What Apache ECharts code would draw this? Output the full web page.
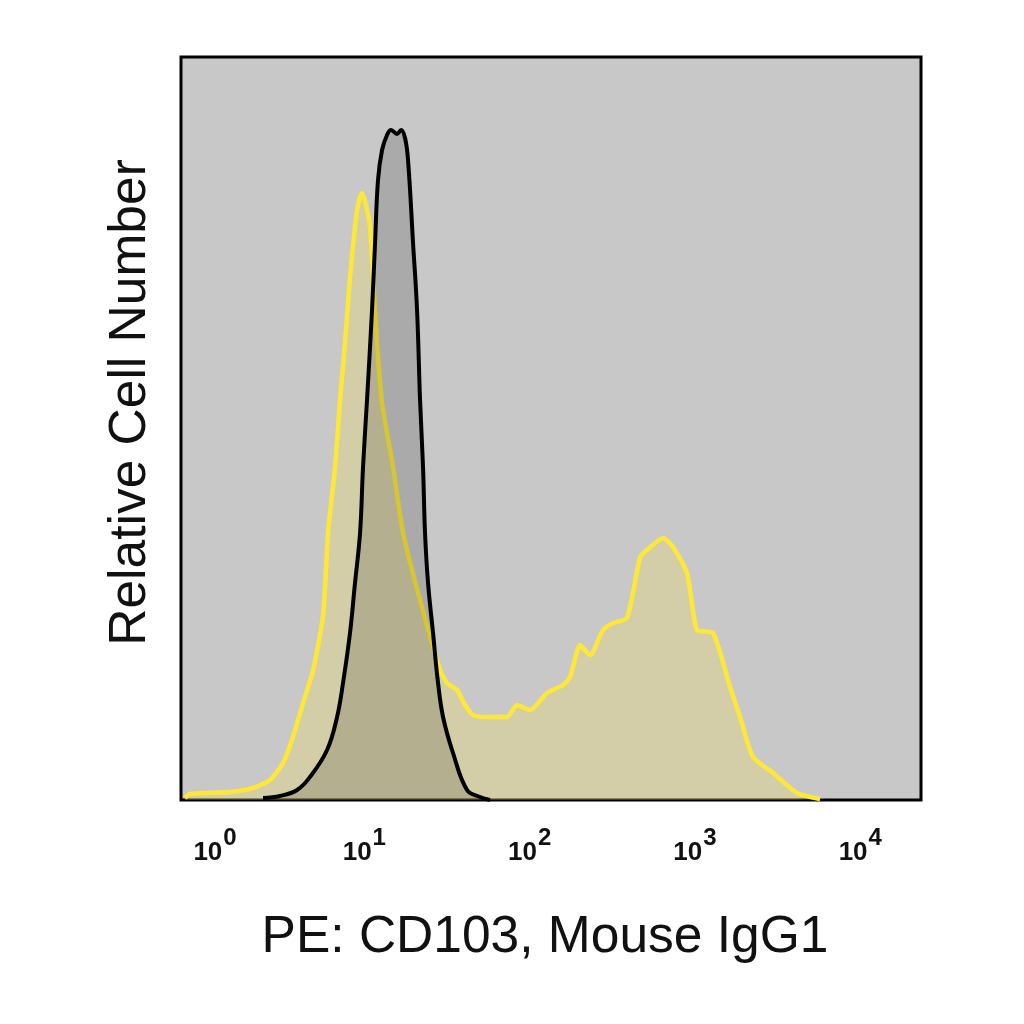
<!DOCTYPE html>
<html>
<head>
<meta charset="utf-8">
<script src="https://cdn.jsdelivr.net/npm/echarts@6/dist/echarts.min.js"></script>
<style>
html,body{margin:0;padding:0;background:#fff;}
#chart{width:1024px;height:1024px;}
</style>
</head>
<body>
<div id="chart"></div>
<script>
// PE fluorescence (log scale) and relative cell counts
const cd103X = [0.82,0.88,1.54,2.12,2.69,3.22,3.70,4.26,4.90,5.63,6.03,6.65,7.13,7.64,8.19,8.78,9.16,9.68,10.24,10.83,11.29,11.93,12.80,14.92,17.15,21.73,28.7,31.6,36.4,40.7,45.5,52.3,73.0,83.9,100.6,127.4,159.2,175.6,201.8,232,278,320,388,466,513,641,737,896,1030,1287,1631,1874,2246,2968,4147,5713];
const cd103Y = [2,6,8,12,20,37,63,97,130,185,267,333,400,457,523,573,595,607,595,573,523,457,397,333,267,200,130,117,110,95,85,83,83,95,90,107,115,123,155,145,170,177,182,243,250,262,253,227,170,167,113,83,43,27,7,1];
const isoX = [2.44,3.09,3.92,4.69,5.95,6.84,7.43,8.19,8.78,9.42,9.82,10.38,11.13,11.61,12.10,12.80,13.72,14.51,15.77,16.67,17.63,18.38,19.71,20.84,21.73,22.65,23.29,24.29,26.04,27.92,29.93,34.40,41.8,50.1,57.6];
const isoY = [2,4,10,23,50,83,117,167,217,267,333,400,490,557,620,650,665,670,666,670,662,640,557,490,400,333,267,217,167,117,83,47,10,3,0];
const tickPowers = [0,1,2,3,4];
const xTitle = 'PE: CD103, Mouse IgG1';
const yTitle = 'Relative Cell Number';

const pair = (xs, ys) => xs.map((x, i) => [x, ys[i]]);
const tickFont = "'Liberation Sans Narrow','Arial Narrow','Liberation Sans',Arial,sans-serif";
const titleFont = "'Liberation Sans',Arial,Helvetica,sans-serif";

const chart = echarts.init(document.getElementById('chart'), null, {renderer: 'canvas'});
chart.setOption({
  animation: false,
  backgroundColor: '#ffffff',
  grid: {
    left: 181, right: 103, top: 57, bottom: 224,
    show: true, backgroundColor: '#c8c8c8',
    borderColor: '#000000', borderWidth: 3
  },
  xAxis: {
    type: 'log', logBase: 10,
    min: 0.778, max: 23300,
    name: xTitle, nameLocation: 'middle', nameGap: 112,
    nameTextStyle: {fontSize: 51.5, fontFamily: titleFont, color: '#111', padding: [0, 12, 0, 0]},
    axisLine: {show: false}, axisTick: {show: false}, splitLine: {show: false},
    axisLabel: {
      show: true, margin: 26, showMinLabel: false, showMaxLabel: false,
      formatter: function (v) {
        const e = Math.log10(v);
        const n = Math.round(e);
        if (Math.abs(e - n) > 1e-6 || tickPowers.indexOf(n) < 0) return '';
        return (n === 0 ? '{a0|10}' : '{a|10}') + '{s|' + n + '}';
      },
      rich: {
        a: {fontSize: 26, fontWeight: 'bold', fontFamily: tickFont, color: '#111', lineHeight: 40, verticalAlign: 'bottom'},
        a0: {fontSize: 26, fontWeight: 'bold', fontFamily: tickFont, color: '#111', lineHeight: 40, verticalAlign: 'bottom', padding: [0, 0, 0, 32]},
        s: {fontSize: 24, fontWeight: 'bold', fontFamily: tickFont, color: '#111', verticalAlign: 'top', padding: [0, 0, 0, 1]}
      }
    }
  },
  yAxis: {
    type: 'value', min: 0, max: 743,
    name: yTitle, nameLocation: 'middle', nameGap: 24,
    nameTextStyle: {fontSize: 51.5, fontFamily: titleFont, color: '#111', padding: [0, 0, 0, 52]},
    axisLine: {show: false}, axisTick: {show: false}, axisLabel: {show: false}, splitLine: {show: false}
  },
  series: [
    {
      name: 'CD103', type: 'line', data: pair(cd103X, cd103Y),
      showSymbol: false, symbol: 'none', smooth: 0.2,
      lineStyle: {color: '#fde83a', width: 4.5},
      areaStyle: {color: 'rgba(240,222,85,0.4)', origin: 'start'},
      z: 2
    },
    {
      name: 'Mouse IgG1', type: 'line', data: pair(isoX, isoY),
      showSymbol: false, symbol: 'none', smooth: 0.4,
      lineStyle: {color: '#000000', width: 4},
      areaStyle: {color: 'rgba(0,0,0,0.21)', origin: 'start'},
      z: 3
    }
  ]
});
</script>
</body>
</html>
